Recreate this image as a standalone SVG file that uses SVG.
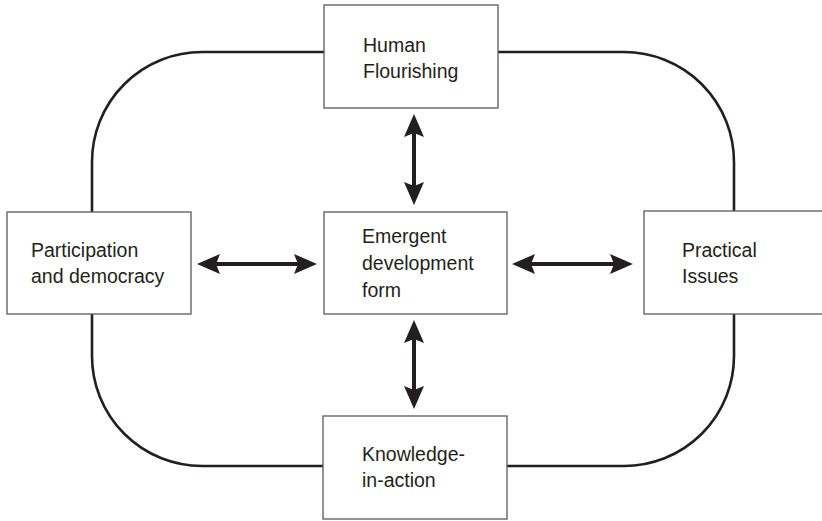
<svg xmlns="http://www.w3.org/2000/svg" width="822" height="521" viewBox="0 0 822 521">
<style>
.loop{fill:none;stroke:#231f20;stroke-width:2.6}
.box{fill:#fff;stroke:#5a5a5a;stroke-width:1.3}
.lbl{font-family:"Liberation Sans",Arial,sans-serif;font-size:19.5px;fill:#231f20}
.arr{stroke:#231f20;stroke-width:4;fill:none;marker-start:url(#ah);marker-end:url(#ah)}
</style>
<defs>
<marker id="ah" markerUnits="userSpaceOnUse" viewBox="0 0 23 20" refX="6" refY="10" markerWidth="23" markerHeight="20" orient="auto-start-reverse">
<path d="M0,0 L23,10 L0,20 L4,10 Z" fill="#231f20"/>
</marker>
</defs>
<rect width="822" height="521" fill="#fff"/>
<g id="connectors">
<rect class="loop" x="92" y="52" width="642" height="414" rx="110" ry="110"/>
<line class="arr" x1="214" y1="264" x2="300" y2="264"/>
<line class="arr" x1="529" y1="264" x2="616" y2="264"/>
<line class="arr" x1="414" y1="131" x2="414" y2="188"/>
<line class="arr" x1="414" y1="337" x2="414" y2="392"/>
</g>
<g id="human-flourishing">
<rect class="box" x="324" y="5" width="174" height="103"/>
<text class="lbl" x="363" y="52">Human</text>
<text class="lbl" x="363" y="78">Flourishing</text>
</g>
<g id="participation">
<rect class="box" x="7" y="212" width="184" height="102"/>
<text class="lbl" x="31" y="257">Participation</text>
<text class="lbl" x="31" y="283">and democracy</text>
</g>
<g id="emergent">
<rect class="box" x="324" y="212" width="183" height="102"/>
<text class="lbl" x="362" y="243">Emergent</text>
<text class="lbl" x="362" y="270">development</text>
<text class="lbl" x="362" y="297">form</text>
</g>
<g id="practical">
<rect class="box" x="644" y="211" width="190" height="103"/>
<text class="lbl" x="682" y="257">Practical</text>
<text class="lbl" x="682" y="283">Issues</text>
</g>
<g id="knowledge">
<rect class="box" x="323" y="416" width="184" height="103"/>
<text class="lbl" x="362" y="461">Knowledge-</text>
<text class="lbl" x="362" y="487">in-action</text>
</g>
</svg>
